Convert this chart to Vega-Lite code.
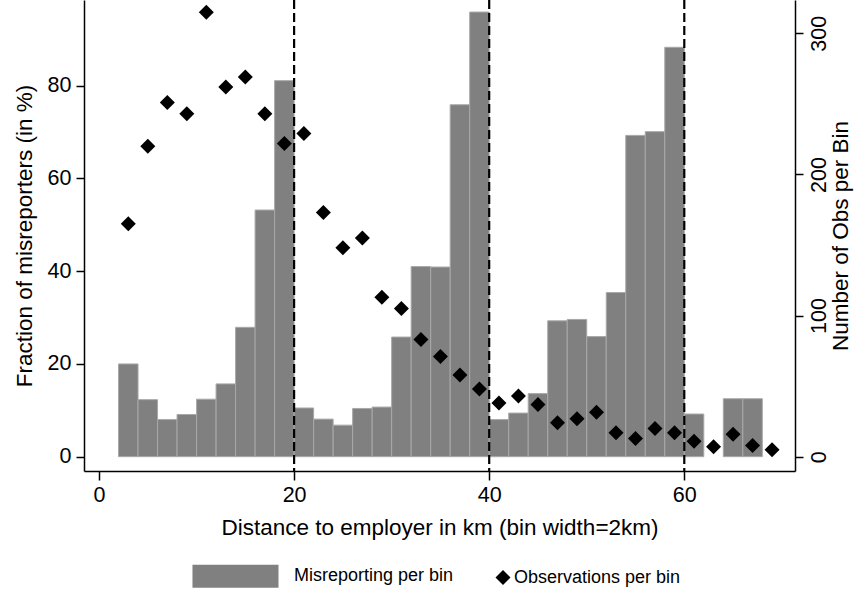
{
  "$schema": "https://vega.github.io/schema/vega-lite/v6.json",
  "width": 711,
  "height": 471,
  "autosize": "none",
  "padding": {"left": 84, "top": 0, "right": 61, "bottom": 126},
  "background": "white",
  "config": {
    "font": "Liberation Sans",
    "view": {"stroke": null},
    "axis": {
      "grid": false,
      "domainColor": "#000000",
      "domainWidth": 1.5,
      "tickColor": "#000000",
      "tickWidth": 1.5,
      "labelColor": "#000000",
      "titleColor": "#000000",
      "titleFontWeight": "normal",
      "labelFontSize": 21.5,
      "titleFontSize": 22.5,
      "labelFont": "Liberation Sans",
      "titleFont": "Liberation Sans"
    },
    "legend": {
      "labelFont": "Liberation Sans",
      "labelFontSize": 18,
      "labelColor": "#000000"
    }
  },
  "datasets": {
    "bins": [
      {"lo": 2, "hi": 4, "mid": 3, "mis": 20.0, "obs": 165},
      {"lo": 4, "hi": 6, "mid": 5, "mis": 12.3, "obs": 220},
      {"lo": 6, "hi": 8, "mid": 7, "mis": 8.0, "obs": 251},
      {"lo": 8, "hi": 10, "mid": 9, "mis": 9.1, "obs": 243},
      {"lo": 10, "hi": 12, "mid": 11, "mis": 12.4, "obs": 315},
      {"lo": 12, "hi": 14, "mid": 13, "mis": 15.7, "obs": 262},
      {"lo": 14, "hi": 16, "mid": 15, "mis": 27.9, "obs": 269},
      {"lo": 16, "hi": 18, "mid": 17, "mis": 53.2, "obs": 243},
      {"lo": 18, "hi": 20, "mid": 19, "mis": 81.1, "obs": 222},
      {"lo": 20, "hi": 22, "mid": 21, "mis": 10.5, "obs": 229},
      {"lo": 22, "hi": 24, "mid": 23, "mis": 8.1, "obs": 173},
      {"lo": 24, "hi": 26, "mid": 25, "mis": 6.8, "obs": 148},
      {"lo": 26, "hi": 28, "mid": 27, "mis": 10.4, "obs": 155},
      {"lo": 28, "hi": 30, "mid": 29, "mis": 10.7, "obs": 113},
      {"lo": 30, "hi": 32, "mid": 31, "mis": 25.8, "obs": 105},
      {"lo": 32, "hi": 34, "mid": 33, "mis": 41.0, "obs": 83},
      {"lo": 34, "hi": 36, "mid": 35, "mis": 40.9, "obs": 71},
      {"lo": 36, "hi": 38, "mid": 37, "mis": 75.9, "obs": 58},
      {"lo": 38, "hi": 40, "mid": 39, "mis": 95.9, "obs": 48},
      {"lo": 40, "hi": 42, "mid": 41, "mis": 8.0, "obs": 38},
      {"lo": 42, "hi": 44, "mid": 43, "mis": 9.4, "obs": 43},
      {"lo": 44, "hi": 46, "mid": 45, "mis": 13.6, "obs": 37},
      {"lo": 46, "hi": 48, "mid": 47, "mis": 29.3, "obs": 24},
      {"lo": 48, "hi": 50, "mid": 49, "mis": 29.6, "obs": 27},
      {"lo": 50, "hi": 52, "mid": 51, "mis": 25.9, "obs": 31.5},
      {"lo": 52, "hi": 54, "mid": 53, "mis": 35.4, "obs": 17},
      {"lo": 54, "hi": 56, "mid": 55, "mis": 69.3, "obs": 13},
      {"lo": 56, "hi": 58, "mid": 57, "mis": 70.1, "obs": 20},
      {"lo": 58, "hi": 60, "mid": 59, "mis": 88.3, "obs": 17},
      {"lo": 60, "hi": 62, "mid": 61, "mis": 9.2, "obs": 11},
      {"lo": 62, "hi": 64, "mid": 63, "mis": null, "obs": 7},
      {"lo": 64, "hi": 66, "mid": 65, "mis": 12.5, "obs": 16},
      {"lo": 66, "hi": 68, "mid": 67, "mis": 12.5, "obs": 8},
      {"lo": 68, "hi": 70, "mid": 69, "mis": null, "obs": 5}
    ],
    "cuts": [{"cut": 20}, {"cut": 40}, {"cut": 60}]
  },
  "layer": [
    {
      "data": {"name": "bins"},
      "mark": {"type": "bar", "fill": "#808080", "stroke": "#a8a8a8", "strokeWidth": 1},
      "encoding": {
        "x": {
          "field": "lo",
          "type": "quantitative",
          "scale": {"domain": [-1.54, 71.35], "nice": false, "zero": false},
          "axis": {"values": [0, 20, 40, 60], "tickSize": 9, "labelPadding": 4, "titlePadding": 11},
          "title": "Distance to employer in km (bin width=2km)"
        },
        "x2": {"field": "hi"},
        "y": {
          "field": "mis",
          "type": "quantitative",
          "scale": {"domain": [-3.09, 98.5], "nice": false, "zero": false},
          "axis": {"values": [0, 20, 40, 60, 80], "tickSize": 8, "labelPadding": 5, "titlePadding": 11},
          "title": "Fraction of misreporters (in %)"
        },
        "y2": {"datum": 0}
      }
    },
    {
      "data": {"name": "cuts"},
      "mark": {"type": "rule", "strokeDash": [9, 4], "strokeWidth": 2.2, "color": "#000000"},
      "encoding": {
        "x": {"field": "cut", "type": "quantitative", "title": "Distance to employer in km (bin width=2km)"}
      }
    },
    {
      "data": {"name": "bins"},
      "mark": {"type": "point", "filled": true, "size": 225, "opacity": 1},
      "encoding": {
        "x": {"field": "mid", "type": "quantitative", "title": "Distance to employer in km (bin width=2km)"},
        "y": {
          "field": "obs",
          "type": "quantitative",
          "scale": {"domain": [-10.1, 323.6], "nice": false, "zero": false},
          "axis": {
            "orient": "right",
            "values": [0, 100, 200, 300],
            "tickSize": 8,
            "labelAngle": 270,
            "labelAlign": "center",
            "labelBaseline": "top",
            "labelPadding": 5,
            "titleAngle": 270,
            "titleBaseline": "top",
            "titlePadding": 0
          },
          "title": "Number of Obs per Bin"
        },
        "color": {
          "datum": "Observations per bin",
          "type": "nominal",
          "scale": {"domain": ["Misreporting per bin", "Observations per bin"], "range": ["#808080", "#000000"]},
          "legend": {
            "orient": "none",
            "legendX": 190,
            "legendY": 567,
            "direction": "horizontal",
            "title": null,
            "symbolSize": 225,
            "symbolStrokeWidth": 0,
            "labelOffset": 2,
            "labelLimit": 400,
            "columnPadding": 40,
            "labelBaseline": "middle"
          }
        },
        "shape": {
          "datum": "Observations per bin",
          "type": "nominal",
          "scale": {"domain": ["Misreporting per bin", "Observations per bin"], "range": ["M-12.07,-1.533H-0.6V1.533H-12.07Z", "diamond"]}
        }
      }
    }
  ],
  "resolve": {"scale": {"y": "independent"}}
}
